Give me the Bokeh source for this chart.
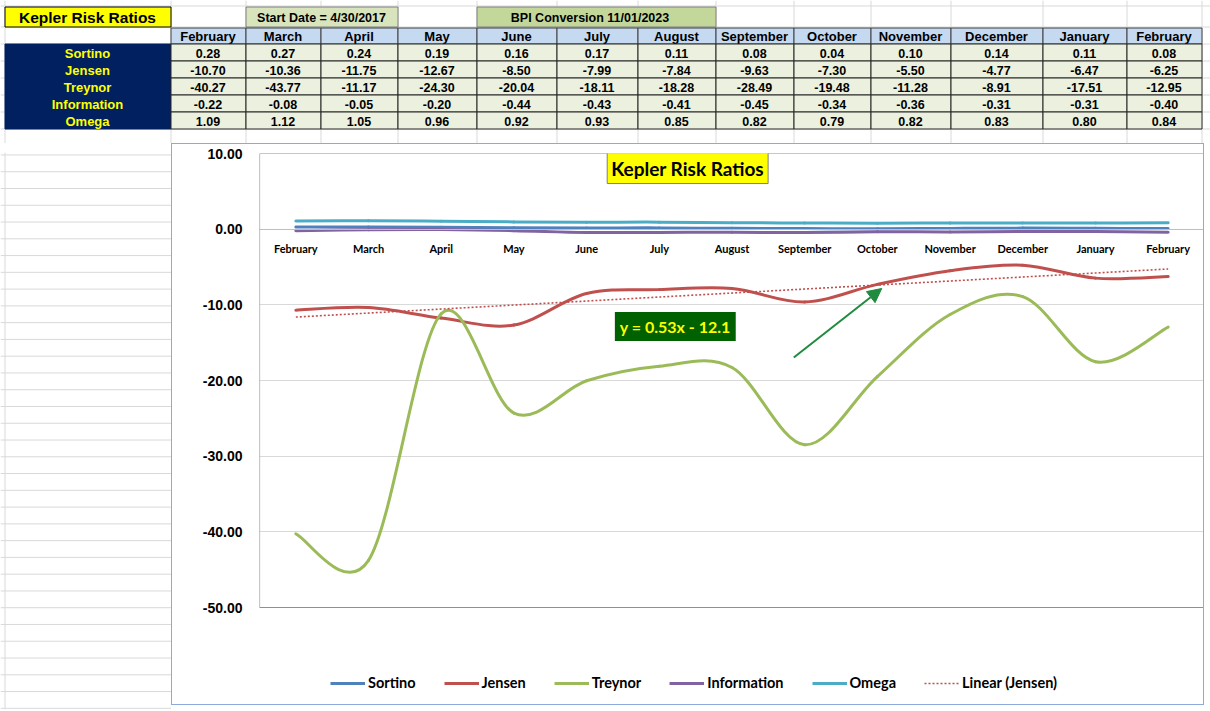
import numpy as np
from bokeh.plotting import figure
from bokeh.models import (Range1d, FixedTicker, NumeralTickFormatter,
                          Label, Arrow, NormalHead, Legend, LegendItem, ColumnDataSource)
from bokeh.layouts import column, row
from bokeh.core.properties import value
from bokeh.embed import file_html
from bokeh.resources import INLINE

# ---- data ----
months = ["February", "March", "April", "May", "June", "July", "August",
          "September", "October", "November", "December", "January", "February"]
sortino = [0.28, 0.27, 0.24, 0.19, 0.16, 0.17, 0.11, 0.08, 0.04, 0.10, 0.14, 0.11, 0.08]
jensen = [-10.70, -10.36, -11.75, -12.67, -8.50, -7.99, -7.84, -9.63, -7.30, -5.50, -4.77, -6.47, -6.25]
treynor = [-40.27, -43.77, -11.17, -24.30, -20.04, -18.11, -18.28, -28.49, -19.48, -11.28, -8.91, -17.51, -12.95]
information = [-0.22, -0.08, -0.05, -0.20, -0.44, -0.43, -0.41, -0.45, -0.34, -0.36, -0.31, -0.31, -0.40]
omega = [1.09, 1.12, 1.05, 0.96, 0.92, 0.93, 0.85, 0.82, 0.79, 0.82, 0.83, 0.80, 0.84]

series_names = ["Sortino", "Jensen", "Treynor", "Information", "Omega"]
series_values = [sortino, jensen, treynor, information, omega]
series_colors = ["#4F81BD", "#C0504D", "#9BBB59", "#8064A2", "#4BACC6"]

title = "Kepler Risk Ratios"
start_note = "Start Date = 4/30/2017"
bpi_note = "BPI Conversion 11/01/2023"

W = 1210
TOP_H = 143
GRID = "#D9D9D9"
TFONT = value("Liberation Sans")

# ---- spreadsheet table on top ----
col_edges = [4, 170, 245, 320, 397, 476, 556, 637, 715, 793, 870, 950, 1042, 1126, 1201]
row_edges = [43, 60, 77, 94, 111, 128]

top = figure(width=W, height=TOP_H, x_range=Range1d(0, W), y_range=Range1d(TOP_H, 0),
             x_axis_type=None, y_axis_type=None, output_backend="svg",
             toolbar_location=None, min_border=0)
top.grid.visible = False
top.outline_line_color = None

# sheet gridlines
top.segment(x0=[e + 0.5 for e in col_edges], y0=0, x1=[e + 0.5 for e in col_edges], y1=TOP_H,
            line_color=GRID, line_width=1)
hl = [5.5, 26.5] + [r + 0.5 for r in row_edges]
top.segment(x0=0, y0=hl, x1=W, y1=hl, line_color=GRID, line_width=1)

# title cells
top.quad(left=4.5, right=170.5, top=6.5, bottom=26.5, fill_color="#FFFF00", line_color="#000000")
top.text(x=[87], y=[17], text=[title], text_font=TFONT, text_font_style="bold",
         text_font_size="15.5px", text_align="center", text_baseline="middle", text_color="#000000")
top.quad(left=col_edges[2] + 0.5, right=col_edges[4] + 0.5, top=6.5, bottom=26.5,
         fill_color="#D8E4BC", line_color="#7F7F7F")
top.text(x=[(col_edges[2] + col_edges[4]) / 2], y=[17], text=[start_note], text_font=TFONT,
         text_font_style="bold", text_font_size="12.5px", text_align="center", text_baseline="middle")
top.quad(left=col_edges[5] + 0.5, right=col_edges[8] + 0.5, top=6.5, bottom=26.5,
         fill_color="#C4D79B", line_color="#7F7F7F")
top.text(x=[(col_edges[5] + col_edges[8]) / 2 - 6], y=[17], text=[bpi_note], text_font=TFONT,
         text_font_style="bold", text_font_size="12.5px", text_align="center", text_baseline="middle")

# header row
lefts = [col_edges[i + 1] + 0.5 for i in range(len(months))]
rights = [col_edges[i + 2] + 0.5 for i in range(len(months))]
mids = [(col_edges[i + 1] + col_edges[i + 2]) / 2 for i in range(len(months))]
top.quad(left=lefts, right=rights, top=27.5, bottom=43.5, fill_color="#C5D9F1", line_color="#404040")
top.text(x=mids, y=35.5, text=months, text_font=TFONT, text_font_style="bold", text_font_size="13px",
         text_align="center", text_baseline="middle", text_color="#000000")

# row labels block
top.quad(left=4.5, right=170.5, top=43.5, bottom=128.5, fill_color="#002060", line_color="#002060")
for k, (name, vals) in enumerate(zip(series_names, series_values)):
    t0, b0 = row_edges[k] + 0.5, row_edges[k + 1] + 0.5
    ym = (row_edges[k] + row_edges[k + 1]) / 2 + 1
    top.text(x=[87], y=[ym], text=[name], text_font=TFONT, text_font_style="bold",
             text_font_size="13px", text_align="center", text_baseline="middle", text_color="#FFFF00")
    top.quad(left=lefts, right=rights, top=t0, bottom=b0, fill_color="#EBF1DE", line_color="#262626")
    top.text(x=mids, y=ym, text=["%.2f" % v for v in vals], text_font=TFONT, text_font_style="bold",
             text_font_size="12.5px", text_align="center", text_baseline="middle", text_color="#000000")

# ---- empty sheet left of the chart ----
LH = 711 - TOP_H
left = figure(width=171, height=LH, x_range=Range1d(0, 171), y_range=Range1d(LH, 0),
              x_axis_type=None, y_axis_type=None, output_backend="svg",
              toolbar_location=None, min_border=0)
left.grid.visible = False
left.outline_line_color = None
rows_y = list(np.arange(2.5, LH, 17.1))
left.segment(x0=0, y0=rows_y, x1=171, y1=rows_y, line_color=GRID, line_width=1)
left.segment(x0=[4.5], y0=[0], x1=[4.5], y1=[LH], line_color=GRID, line_width=1)

# ---- chart ----
Y_MIN, Y_MAX = -50, 10
FRAME_H = 551          # plot area 454 px for the -50..10 span, plus room for the legend
Y_LOW = Y_MAX - (Y_MAX - Y_MIN) * FRAME_H / 454.0

chart = figure(width=1033, height=562, x_range=Range1d(0.5, 13.5), y_range=Range1d(Y_LOW, Y_MAX),
               output_backend="svg", toolbar_location=None,
               min_border_left=87, min_border_right=1, min_border_top=9, min_border_bottom=2)
chart.styles = {"border": "1px solid #8EA9DB"}
chart.outline_line_color = None
chart.xgrid.visible = False
chart.ygrid.grid_line_color = GRID

chart.yaxis.ticker = FixedTicker(ticks=list(range(Y_MIN, Y_MAX + 1, 10)))
chart.yaxis.formatter = NumeralTickFormatter(format="0.00")
chart.yaxis.axis_line_color = None
chart.yaxis.major_tick_line_color = None
chart.yaxis.minor_tick_line_color = None
chart.yaxis.major_label_standoff = 11
chart.yaxis.major_label_text_font = "Liberation Sans"
chart.yaxis.major_label_text_font_style = "bold"
chart.yaxis.major_label_text_font_size = "14px"
chart.yaxis.major_label_text_color = "#000000"

xs = list(range(1, len(months) + 1))
chart.xaxis.ticker = FixedTicker(ticks=xs)
chart.xaxis.major_label_overrides = {x: m for x, m in zip(xs, months)}
chart.xaxis.fixed_location = 0
chart.xaxis.axis_line_color = "#BFBFBF"
chart.xaxis.major_tick_line_color = None
chart.xaxis.minor_tick_line_color = None
chart.xaxis.major_label_standoff = 7
chart.xaxis.major_label_text_font = "Lato"
chart.xaxis.major_label_text_font_style = "bold"
chart.xaxis.major_label_text_font_size = "11px"
chart.xaxis.major_label_text_color = "#000000"

# plot-area border (frame also holds the legend strip)
chart.quad(left=0.5, right=13.5, top=Y_MAX, bottom=Y_MIN, fill_color=None,
           line_color="#7F93AD", line_width=1.2)


def smooth_segments(ys):
    # Bezier control points for Excel-like smoothed lines
    n = len(ys)
    seg = dict(x0=[], y0=[], x1=[], y1=[], cx0=[], cy0=[], cx1=[], cy1=[])
    for i in range(n - 1):
        ip, inx = max(i - 1, 0), min(i + 2, n - 1)
        seg["x0"].append(xs[i]); seg["y0"].append(ys[i])
        seg["x1"].append(xs[i + 1]); seg["y1"].append(ys[i + 1])
        seg["cx0"].append(xs[i] + (xs[i + 1] - xs[ip]) / 6)
        seg["cy0"].append(ys[i] + (ys[i + 1] - ys[ip]) / 6)
        seg["cx1"].append(xs[i + 1] - (xs[inx] - xs[i]) / 6)
        seg["cy1"].append(ys[i + 1] - (ys[inx] - ys[i]) / 6)
    return ColumnDataSource(seg)


items = []
for name, vals, color in zip(series_names, series_values, series_colors):
    chart.bezier(x0="x0", y0="y0", x1="x1", y1="y1", cx0="cx0", cy0="cy0", cx1="cx1", cy1="cy1",
                 source=smooth_segments(vals), line_color=color, line_width=3, line_cap="round")
    # legend swatch only (NaN point draws nothing on the plot)
    swatch = chart.line(x=[1], y=[np.nan], line_color=color, line_width=3)
    items.append(LegendItem(label=name, renderers=[swatch]))

# linear trendline of Jensen
slope, intercept = np.polyfit(xs, jensen, 1)
trend = chart.line(x=[xs[0], xs[-1]], y=[slope * xs[0] + intercept, slope * xs[-1] + intercept],
                   line_color="#C0504D", line_dash="2 2", line_width=1.6)
items.append(LegendItem(label="Linear (Jensen)", renderers=[trend]))

legend = Legend(items=items, orientation="horizontal", location=(71, 13), margin=0, padding=4,
                spacing=28, glyph_width=35, glyph_height=12, label_standoff=3,
                label_text_font="Lato", label_text_font_style="bold", label_text_font_size="14.5px",
                label_text_color="#000000", border_line_color=None, background_fill_alpha=0)
chart.add_layout(legend)

chart.add_layout(Label(x=6.39, y=8.08, text=title, text_align="center", text_baseline="middle",
                       text_font="Lato", text_font_style="bold", text_font_size="19px",
                       text_color="#000000", background_fill_color="#FFFF00",
                       border_line_color="#7F7F7F", padding=4))
chart.add_layout(Label(x=6.22, y=-12.86, text="y = 0.53x - 12.1", text_align="center",
                       text_baseline="middle", text_font="Lato", text_font_style="bold",
                       text_font_size="16px", text_color="#FFFF00", background_fill_color="#006100",
                       padding=5))
chart.add_layout(Arrow(x_start=7.85, y_start=-16.96, x_end=9.06, y_end=-7.84,
                       line_color="#1E8B3E", line_width=2,
                       end=NormalHead(size=14, fill_color="#1E8B3E", line_color="#1E8B3E")))

layout = column(top, row(left, chart))
open("out.html", "w").write(file_html(layout, INLINE))
